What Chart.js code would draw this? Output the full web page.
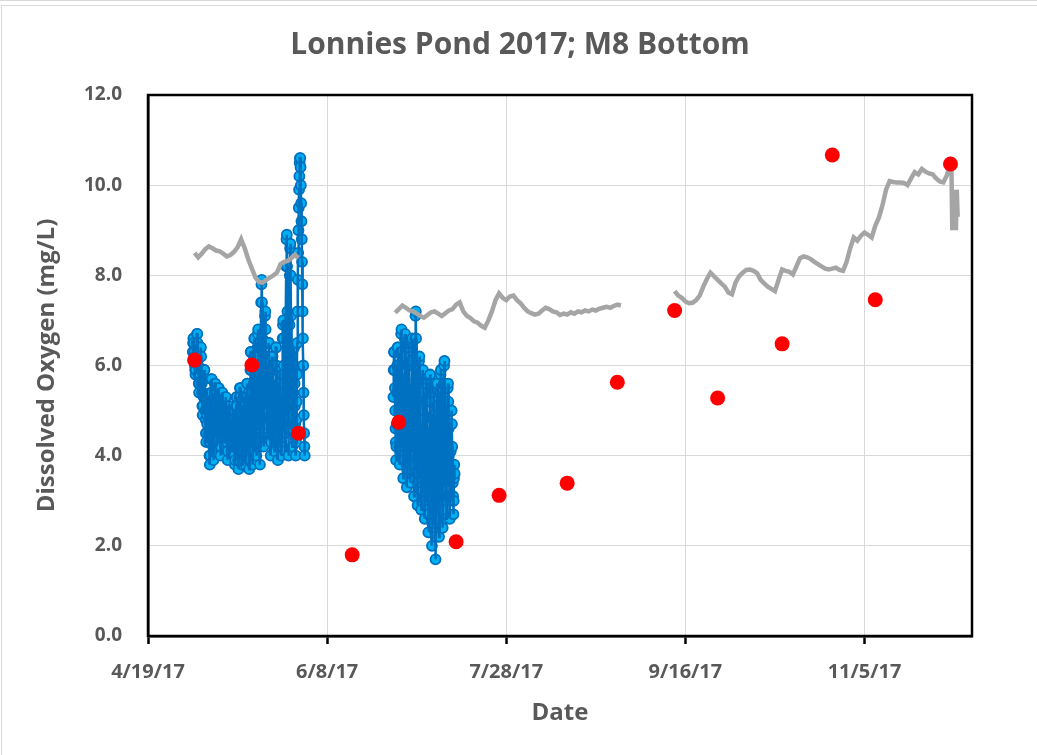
<!DOCTYPE html>
<html>
<head>
<meta charset="utf-8">
<title>Lonnies Pond 2017; M8 Bottom</title>
<script src="https://cdn.jsdelivr.net/npm/chart.js@4.4.1/dist/chart.umd.min.js"></script>
<style>
    html, body { margin: 0; padding: 0; background: #ffffff; }
    #wrap { position: relative; width: 1037px; height: 755px; border-top: 1px solid #d9d9d9; box-sizing: border-box; }
    #frame { position: absolute; left: 1px; top: 4px; right: 0; bottom: 0; border-left: 1px solid #d9d9d9; border-top: 1px solid #d9d9d9; pointer-events: none; }
    canvas { position: absolute; left: 0; top: 0; }
</style>
</head>
<body>
<div id="wrap">
    <canvas id="doChart" width="1037" height="755"></canvas>
    <div id="frame"></div>
</div>
<script>
// Eixo X em dias desde 4/19/17
const BASE_DATE = '4/19/17';
const X_MAX_DAYS = 230;
const X_STEP_DAYS = 50;
const Y_TICKS = [0, 2, 4, 6, 8, 10, 12];

// Amostras pontuais (círculos vermelhos)
const sampleDates = ['5/2/17', '5/18/17', '5/31/17', '6/15/17', '6/28/17', '7/14/17', '7/26/17', '8/14/17',
    '8/28/17', '9/13/17', '9/25/17', '10/13/17', '10/27/17', '11/8/17', '11/29/17'];
const sampleDO = [6.12, 6.01, 4.50, 1.80, 4.74, 2.09, 3.12, 3.39, 5.63, 7.22, 5.28, 6.48, 10.67, 7.46, 10.47];

// Sonda de fundo, leituras a cada 2 h (uma linha por dia, começando ao meio-dia de 5/1/17)
const bottomStart1 = '5/1/17';
const bottomDO1 = [
    6.3, 6.5, 6.6, 6.6, 6.5, 6.3, 6.2, 6.0, 5.9, 5.8, 5.9, 6.1,
    6.2, 6.5, 6.7, 6.7, 6.5, 6.3, 6.0, 5.8, 5.6, 5.4, 5.6, 5.9,
    5.8, 6.2, 6.4, 6.4, 6.2, 5.9, 5.6, 5.4, 5.1, 4.9, 5.1, 5.4,
    5.3, 5.7, 5.9, 5.9, 5.7, 5.3, 5.0, 4.8, 4.5, 4.3, 4.5, 4.9,
    4.7, 5.1, 5.3, 5.3, 5.1, 4.8, 4.5, 4.3, 4.0, 3.8, 4.0, 4.3,
    5.0, 5.4, 5.7, 5.7, 5.4, 5.1, 4.7, 4.4, 4.2, 3.9, 4.1, 4.5,
    5.0, 5.4, 5.6, 5.6, 5.4, 5.1, 4.8, 4.6, 4.4, 4.2, 4.4, 4.7,
    4.9, 5.3, 5.5, 5.5, 5.3, 5.0, 4.7, 4.5, 4.2, 4.0, 4.2, 4.5,
    5.0, 5.2, 5.4, 5.4, 5.2, 5.0, 4.8, 4.6, 4.5, 4.3, 4.4, 4.7,
    4.7, 5.1, 5.3, 5.3, 5.1, 4.8, 4.5, 4.3, 4.1, 3.9, 4.1, 4.4,
    4.7, 5.0, 5.1, 5.1, 5.0, 4.8, 4.6, 4.4, 4.3, 4.1, 4.2, 4.5,
    4.5, 4.8, 5.0, 5.0, 4.8, 4.6, 4.3, 4.2, 4.0, 3.8, 3.9, 4.2,
    4.7, 5.1, 5.3, 5.3, 5.1, 4.7, 4.4, 4.2, 3.9, 3.7, 3.9, 4.3,
    4.8, 5.3, 5.5, 5.5, 5.3, 4.9, 4.6, 4.3, 4.1, 3.8, 4.0, 4.4,
    4.7, 5.1, 5.3, 5.3, 5.1, 4.8, 4.5, 4.3, 4.0, 3.8, 4.0, 4.3,
    4.8, 5.3, 5.6, 5.6, 5.3, 4.9, 4.6, 4.3, 4.0, 3.7, 3.9, 4.4,
    5.3, 5.9, 6.3, 6.3, 5.9, 5.4, 4.9, 4.6, 4.2, 3.8, 4.1, 4.7,
    5.6, 6.2, 6.6, 6.6, 6.2, 5.7, 5.2, 4.8, 4.4, 4.0, 4.3, 4.9,
    5.6, 6.4, 6.7, 6.8, 6.4, 5.8, 5.2, 4.7, 4.3, 3.8, 4.2, 4.9,
    6.4, 7.4, 7.8, 7.9, 7.4, 6.6, 5.9, 5.3, 4.8, 4.2, 4.6, 5.5,
    6.1, 6.8, 7.1, 7.2, 6.8, 6.2, 5.7, 5.2, 4.8, 4.4, 4.7, 5.4,
    5.5, 6.1, 6.5, 6.5, 6.1, 5.6, 5.1, 4.8, 4.4, 4.0, 4.3, 4.9,
    5.4, 5.9, 6.2, 6.2, 5.9, 5.5, 5.1, 4.7, 4.4, 4.1, 4.4, 4.8,
    5.4, 6.0, 6.4, 6.4, 6.0, 5.5, 5.0, 4.7, 4.3, 3.9, 4.2, 4.8,
    5.1, 5.6, 5.9, 5.9, 5.6, 5.2, 4.9, 4.6, 4.3, 4.0, 4.2, 4.7,
    5.8, 6.6, 6.9, 7.0, 6.6, 6.0, 5.4, 5.0, 4.5, 4.1, 4.5, 5.1,
    6.9, 8.2, 8.8, 8.9, 8.2, 7.2, 6.2, 5.5, 4.7, 4.0, 4.6, 5.7,
    6.9, 8.0, 8.6, 8.7, 8.0, 7.1, 6.2, 5.6, 4.9, 4.2, 4.7, 5.8,
    5.4, 6.0, 6.4, 6.4, 6.0, 5.6, 5.1, 4.7, 4.4, 4.0, 4.3, 4.8,
    5.2, 5.8, 6.5, 7.2, 7.9, 8.5, 9.0, 9.5, 9.9, 10.2, 10.5, 10.6,
    10.6, 10.4, 10.0, 9.6, 9.2, 8.8, 8.3, 7.8, 7.2, 6.6, 6.0, 5.4,
    4.9, 4.5, 4.2, 4.0
];

// Segundo período da sonda de fundo (começa ao meio-dia de 6/26/17)
const bottomStart2 = '6/26/17';
const bottomDO2 = [
    5.3, 5.9, 6.3, 6.3, 5.9, 5.5, 5.0, 4.6, 4.3, 3.9, 4.2, 4.7,
    5.4, 6.0, 6.4, 6.4, 6.0, 5.5, 5.0, 4.6, 4.2, 3.8, 4.1, 4.7,
    5.5, 6.3, 6.7, 6.8, 6.3, 5.7, 5.0, 4.5, 4.0, 3.5, 3.9, 4.7,
    5.3, 6.2, 6.6, 6.7, 6.2, 5.5, 4.8, 4.3, 3.8, 3.3, 3.7, 4.5,
    5.3, 6.0, 6.4, 6.5, 6.0, 5.4, 4.8, 4.3, 3.9, 3.4, 3.8, 4.5,
    5.2, 6.1, 6.5, 6.6, 6.1, 5.4, 4.7, 4.2, 3.6, 3.1, 3.5, 4.3,
    5.5, 6.6, 7.1, 7.2, 6.6, 5.7, 4.8, 4.2, 3.6, 2.9, 3.4, 4.4,
    4.8, 5.7, 6.1, 6.2, 5.7, 5.0, 4.3, 3.8, 3.3, 2.8, 3.2, 4.0,
    4.6, 5.4, 5.8, 5.9, 5.4, 4.8, 4.1, 3.6, 3.1, 2.6, 3.0, 3.8,
    4.3, 5.2, 5.6, 5.7, 5.2, 4.5, 3.8, 3.3, 2.8, 2.3, 2.7, 3.5,
    4.3, 5.2, 5.7, 5.8, 5.2, 4.5, 3.7, 3.1, 2.6, 2.0, 2.5, 3.3,
    4.0, 4.9, 5.4, 5.5, 4.9, 4.2, 3.4, 2.8, 2.3, 1.7, 2.2, 3.0,
    4.2, 5.1, 5.5, 5.6, 5.1, 4.4, 3.7, 3.2, 2.7, 2.2, 2.6, 3.4,
    4.5, 5.4, 5.8, 5.9, 5.4, 4.7, 4.0, 3.5, 2.9, 2.4, 2.8, 3.6,
    4.7, 5.6, 6.0, 6.1, 5.6, 4.9, 4.2, 3.7, 3.1, 2.6, 3.0, 3.8,
    4.4, 5.2, 5.5, 5.6, 5.2, 4.6, 4.0, 3.5, 3.1, 2.6, 3.0, 3.7,
    4.1, 4.7, 5.0, 5.0, 4.7, 4.2, 3.7, 3.4, 3.1, 2.7, 3.0, 3.5,
    3.8, 3.6
];

// Linha cinza: médias diárias
const grayStartA = '5/2/17';
const grayDOA = [8.50, 8.40, 8.48, 8.58, 8.64, 8.60, 8.55, 8.53, 8.48, 8.42, 8.45, 8.52, 8.62, 8.80, 8.60,
    8.35, 8.15, 7.95, 7.85, 7.84, 7.90, 7.95, 8.00, 8.06, 8.25, 8.30, 8.32, 8.38, 8.46, 8.38];

const grayStartB = '6/27/17';
const grayDOB = [7.17, 7.25, 7.33, 7.28, 7.22, 7.20, 7.15, 7.10, 7.06, 7.12, 7.18, 7.20, 7.15, 7.10, 7.16,
    7.22, 7.25, 7.35, 7.40, 7.20, 7.10, 7.05, 6.98, 6.95, 6.88, 6.84, 7.00, 7.20, 7.45, 7.60, 7.50, 7.45,
    7.53, 7.55, 7.45, 7.38, 7.28, 7.20, 7.16, 7.13, 7.15, 7.22, 7.28, 7.25, 7.20, 7.18, 7.12, 7.15, 7.13,
    7.18, 7.15, 7.20, 7.18, 7.22, 7.20, 7.24, 7.22, 7.26, 7.28, 7.30, 7.28, 7.32, 7.35, 7.33];

const grayStartC = '9/13/17';
const grayDOC = [7.65, 7.55, 7.50, 7.42, 7.38, 7.39, 7.45, 7.55, 7.75, 7.92, 8.06, 7.98, 7.90, 7.82, 7.75,
    7.62, 7.58, 7.84, 7.98, 8.06, 8.12, 8.13, 8.10, 8.05, 7.90, 7.82, 7.75, 7.70, 7.65, 7.90, 8.13, 8.10,
    8.08, 8.02, 8.20, 8.38, 8.42, 8.40, 8.36, 8.30, 8.25, 8.20, 8.15, 8.13, 8.15, 8.17, 8.12, 8.10, 8.30,
    8.60, 8.84, 8.77, 8.88, 8.95, 8.90, 8.84, 9.10, 9.28, 9.55, 9.90, 10.09, 10.07, 10.06, 10.06, 10.05,
    10.00, 10.15, 10.29, 10.24, 10.36, 10.30, 10.26, 10.24, 10.15, 10.08, 10.06, 10.22, 10.50];

// Final da série cinza, a cada 6 h a partir de 11/29/17 06:00
const grayStartTail = '11/29/17';
const grayDOTail = [10.45, 9.00, 9.70, 9.10, 9.90, 9.00, 9.90, 9.30];

const DAY_MS = 86400000;

function parseDate(str) {
    const [m, d, y] = str.split('/').map(Number);
    return Date.UTC(2000 + y, m - 1, d);
}

function dayOf(str) {
    return (parseDate(str) - parseDate(BASE_DATE)) / DAY_MS;
}

function dayLabel(days) {
    const t = new Date(parseDate(BASE_DATE) + Math.round(days) * DAY_MS);
    return (t.getUTCMonth() + 1) + '/' + t.getUTCDate() + '/' + String(t.getUTCFullYear()).slice(2);
}

// Converte uma lista de leituras em pontos {x, y}
function toPoints(startDate, startHour, stepHours, values) {
    const d0 = dayOf(startDate) + startHour / 24;
    return values.map((v, i) => ({ x: d0 + i * stepHours / 24, y: v }));
}

// Junta segmentos com uma quebra (y nulo) entre eles
function joinSegments(segments) {
    const out = [];
    segments.forEach((seg, i) => {
        if (i > 0) {
            out.push({ x: (out[out.length - 1].x + seg[0].x) / 2, y: null });
        }
        out.push(...seg);
    });
    return out;
}

const bottomPoints = joinSegments([
    toPoints(bottomStart1, 12, 2, bottomDO1),
    toPoints(bottomStart2, 12, 2, bottomDO2)
]);

const grayPoints = joinSegments([
    toPoints(grayStartA, 0, 24, grayDOA),
    toPoints(grayStartB, 0, 24, grayDOB),
    toPoints(grayStartC, 0, 24, grayDOC).concat(toPoints(grayStartTail, 6, 6, grayDOTail))
]);

const samplePoints = sampleDates.map((d, i) => ({ x: dayOf(d), y: sampleDO[i] }));

const TEXT_COLOR = '#595959';
const FONT_FAMILY = "'Open Sans', 'DejaVu Sans', sans-serif";

// Moldura preta em volta da área do gráfico
const plotFrame = {
    id: 'plotFrame',
    afterDraw(chart) {
        const { ctx, chartArea } = chart;
        ctx.save();
        ctx.strokeStyle = '#000000';
        ctx.lineWidth = 2.5;
        ctx.strokeRect(chartArea.left, chartArea.top, chartArea.right - chartArea.left, chartArea.bottom - chartArea.top);
        ctx.restore();
    }
};

const ctx = document.getElementById('doChart').getContext('2d');
new Chart(ctx, {
    type: 'line',
    data: {
        datasets: [
            {
                label: 'Amostras',
                data: samplePoints,
                showLine: false,
                pointRadius: 7.5,
                pointBackgroundColor: '#ff0000',
                pointBorderWidth: 0,
                order: 0
            },
            {
                label: 'Cinza',
                data: grayPoints,
                borderColor: '#a5a5a5',
                borderWidth: 4.5,
                pointRadius: 0,
                spanGaps: false,
                tension: 0,
                order: 1
            },
            {
                // traço da sonda de fundo, desenhado por cima dos marcadores
                label: 'Fundo (linha)',
                data: bottomPoints,
                borderColor: '#0070c0',
                borderWidth: 2.5,
                pointRadius: 0,
                spanGaps: false,
                tension: 0,
                order: 2
            },
            {
                label: 'Fundo',
                data: bottomPoints,
                showLine: false,
                pointRadius: 5,
                pointBackgroundColor: '#00b0f0',
                pointBorderColor: '#0070c0',
                pointBorderWidth: 1.8,
                order: 3
            }
        ]
    },
    options: {
        responsive: false,
        animation: false,
        layout: { padding: { left: 20, right: 17, top: 0, bottom: 20 } },
        plugins: {
            legend: { display: false },
            tooltip: { enabled: false },
            title: {
                display: true,
                text: 'Lonnies Pond 2017; M8 Bottom',
                color: TEXT_COLOR,
                font: { family: FONT_FAMILY, size: 30, weight: 'bold' },
                padding: { top: 26, bottom: 32 }
            }
        },
        scales: {
            x: {
                type: 'linear',
                min: 0,
                max: X_MAX_DAYS,
                afterFit(scale) { scale.height = 100; },
                border: { display: true, color: '#000000', width: 2.5 },
                grid: { color: '#d9d9d9', lineWidth: 1, drawTicks: true, tickLength: 8, tickColor: '#000000', tickWidth: 2.5 },
                ticks: {
                    stepSize: X_STEP_DAYS,
                    includeBounds: false,
                    maxRotation: 0,
                    padding: 16,
                    color: TEXT_COLOR,
                    font: { family: FONT_FAMILY, size: 20, weight: 'bold' },
                    callback: (v) => dayLabel(v)
                },
                title: {
                    display: true,
                    text: 'Date',
                    color: TEXT_COLOR,
                    font: { family: FONT_FAMILY, size: 24, weight: 'bold' },
                    padding: { top: 0, bottom: 8 }
                }
            },
            y: {
                min: Y_TICKS[0],
                max: Y_TICKS[Y_TICKS.length - 1],
                afterFit(scale) { scale.width = 128; },
                afterBuildTicks(scale) { scale.ticks = Y_TICKS.map(v => ({ value: v })); },
                border: { display: true, color: '#000000', width: 2.5 },
                grid: { color: '#d9d9d9', lineWidth: 1, drawTicks: false },
                ticks: {
                    padding: 26,
                    color: TEXT_COLOR,
                    font: { family: FONT_FAMILY, size: 19, weight: 'bold' },
                    callback: (v) => Number(v).toFixed(1)
                },
                title: {
                    display: true,
                    text: 'Dissolved Oxygen (mg/L)',
                    color: TEXT_COLOR,
                    font: { family: FONT_FAMILY, size: 24, weight: 'bold' },
                    padding: { top: 13, bottom: 0 }
                }
            },
            // Espaço vazio à direita da área do gráfico
            yRight: {
                type: 'linear',
                position: 'right',
                display: true,
                afterFit(scale) { scale.width = 48; },
                border: { display: false },
                grid: { display: false, drawOnChartArea: false },
                ticks: { display: false }
            }
        }
    },
    plugins: [plotFrame]
});
</script>
</body>
</html>
